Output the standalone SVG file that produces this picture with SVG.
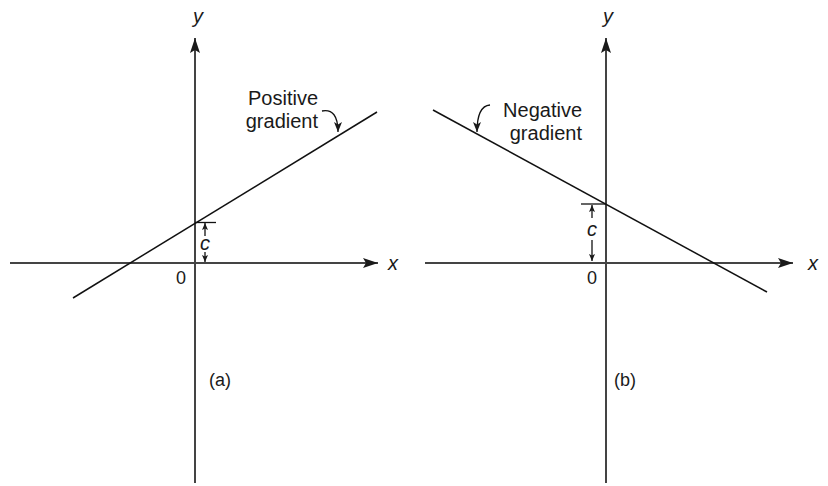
<svg xmlns="http://www.w3.org/2000/svg" width="828" height="486" viewBox="0 0 828 486">
<style>
.axis{stroke:#444;stroke-width:2;fill:none}
.graph{stroke:#111;stroke-width:1.5;fill:none}
.thin{stroke:#111;stroke-width:1.3;fill:none}
text{font-family:"Liberation Sans",Arial,sans-serif;fill:#1a1a1a}
.lbl{font-size:20px}
.var{font-size:20px;font-style:italic}
.num{font-size:18px}
</style>
<defs>
<marker id="ax" markerUnits="userSpaceOnUse" markerWidth="16" markerHeight="10" refX="15" refY="5" orient="auto">
<path d="M0,0 L15,5 L0,10 L3,5 z" fill="#1a1a1a"/>
</marker>
<marker id="sm" markerUnits="userSpaceOnUse" markerWidth="8" markerHeight="7" refX="7" refY="3" orient="auto">
<path d="M0,0 L7,3 L0,6 L1.5,3 z" fill="#1a1a1a"/>
</marker>
<marker id="cv" markerUnits="userSpaceOnUse" markerWidth="11" markerHeight="9" refX="10" refY="4" orient="auto">
<path d="M0,0 L10,4 L0,8 L2.5,4 z" fill="#1a1a1a"/>
</marker>
</defs>

<g id="panel-a">
<g id="connectors-a">
<line class="axis" x1="195" y1="483" x2="195" y2="38" marker-end="url(#ax)"/>
<line class="axis" x1="10" y1="263" x2="378" y2="263" marker-end="url(#ax)"/>
<line class="graph" x1="73" y1="298" x2="377" y2="112"/>
<line class="thin" x1="195" y1="222.5" x2="216" y2="222.5"/>
<line class="thin" x1="205" y1="236" x2="205" y2="223" marker-end="url(#sm)"/>
<line class="thin" x1="205" y1="252" x2="205" y2="262" marker-end="url(#sm)"/>
<path class="thin" d="M322,111 Q338,108 338,132" marker-end="url(#cv)"/>
</g>
<g id="labels-a">
<text class="var" x="198" y="23" text-anchor="middle">y</text>
<text class="var" x="393" y="270" text-anchor="middle">x</text>
<text class="num" x="181" y="284" text-anchor="middle">0</text>
<text class="var" x="205" y="250" text-anchor="middle">c</text>
<text class="lbl" x="318" y="105" text-anchor="end">Positive</text>
<text class="lbl" x="318" y="128" text-anchor="end">gradient</text>
<text class="num" x="220" y="386" text-anchor="middle">(a)</text>
</g>
</g>

<g id="panel-b">
<g id="connectors-b">
<line class="axis" x1="606" y1="483" x2="606" y2="38" marker-end="url(#ax)"/>
<line class="axis" x1="425" y1="263" x2="793" y2="263" marker-end="url(#ax)"/>
<line class="graph" x1="433" y1="110" x2="767" y2="292"/>
<line class="thin" x1="581" y1="204" x2="606" y2="204"/>
<line class="thin" x1="592" y1="218" x2="592" y2="205" marker-end="url(#sm)"/>
<line class="thin" x1="592" y1="240" x2="592" y2="261" marker-end="url(#sm)"/>
<path class="thin" d="M490,105 Q477,106 477,132" marker-end="url(#cv)"/>
</g>
<g id="labels-b">
<text class="var" x="608" y="23" text-anchor="middle">y</text>
<text class="var" x="813" y="270" text-anchor="middle">x</text>
<text class="num" x="592" y="284" text-anchor="middle">0</text>
<text class="var" x="592" y="236" text-anchor="middle">c</text>
<text class="lbl" x="582" y="117" text-anchor="end">Negative</text>
<text class="lbl" x="582" y="140" text-anchor="end">gradient</text>
<text class="num" x="625" y="386" text-anchor="middle">(b)</text>
</g>
</g>
</svg>
